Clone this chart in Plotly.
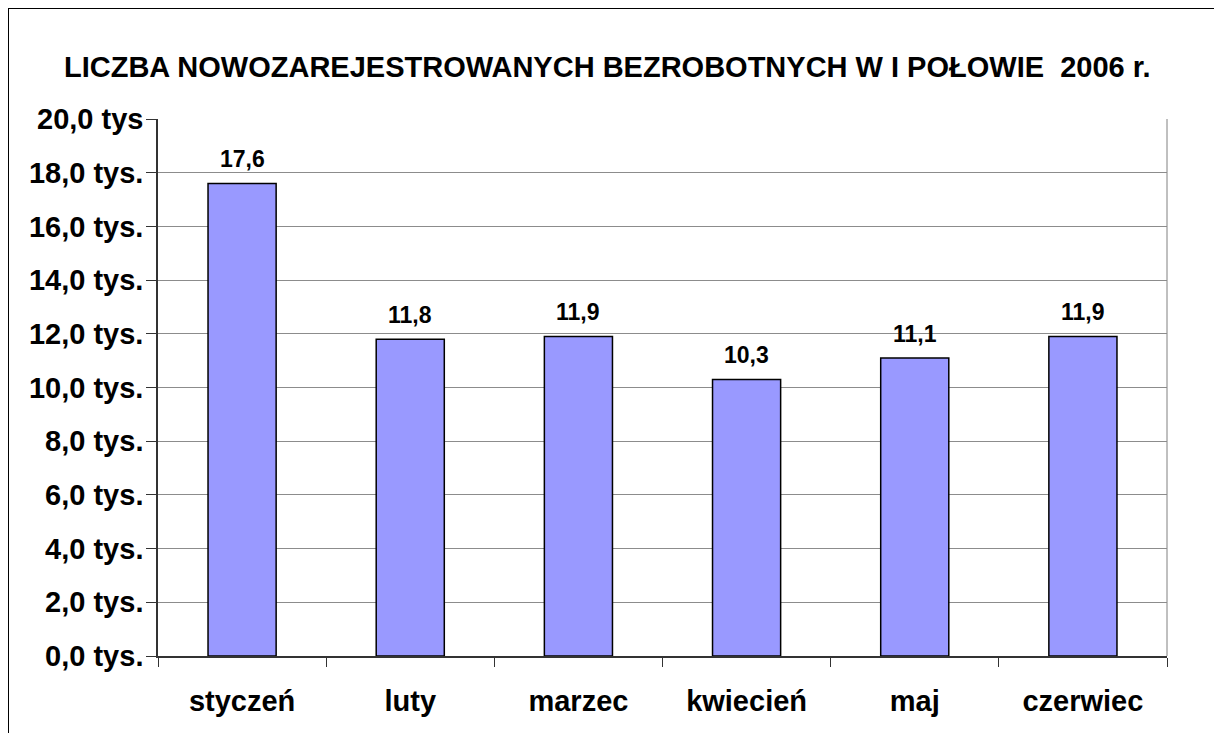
import plotly.graph_objects as go

months = ["styczeń", "luty", "marzec", "kwiecień", "maj", "czerwiec"]
values = [17.6, 11.8, 11.9, 10.3, 11.1, 11.9]
value_labels = ["17,6", "11,8", "11,9", "10,3", "11,1", "11,9"]
ytick_vals = [0, 2, 4, 6, 8, 10, 12, 14, 16, 18, 20]
ytick_text = ["0,0 tys.", "2,0 tys.", "4,0 tys.", "6,0 tys.", "8,0 tys.", "10,0 tys.",
              "12,0 tys.", "14,0 tys.", "16,0 tys.", "18,0 tys.", "20,0 tys"]
title = "LICZBA NOWOZAREJESTROWANYCH BEZROBOTNYCH W I POŁOWIE  2006 r."

W, H = 1222, 733
ML, MR, MT, MB = 150, 63, 111, 85
PW, PH = W - ML - MR, H - MT - MB

def px_x(p):
    return (p - ML) / PW

def px_y(p):
    return (H - MB - p) / PH

FONT = "Liberation Sans, Arial, sans-serif"

fig = go.Figure()
fig.add_trace(go.Bar(
    x=months, y=values,
    marker=dict(color="#9999FF", line=dict(color="#000000", width=1.5)),
    width=0.405,
    hoverinfo="skip",
))

for m, v, t in zip(months, values, value_labels):
    fig.add_annotation(x=m, y=v, text=t, showarrow=False, yanchor="bottom",
                       yshift=9, font=dict(family=FONT, size=23, color="black", weight="bold"))

fig.add_annotation(xref="paper", yref="paper", x=px_x(599), y=px_y(59),
                   xanchor="center", yanchor="middle", text=title, showarrow=False,
                   font=dict(family=FONT, size=29, color="black", weight="bold"))

# outer frame (top and left edges visible)
fig.add_shape(type="line", xref="paper", yref="paper", x0=px_x(0), x1=px_x(1240),
              y0=px_y(0.5), y1=px_y(0.5), line=dict(color="#000000", width=1))
fig.add_shape(type="line", xref="paper", yref="paper", x0=px_x(0.5), x1=px_x(0.5),
              y0=px_y(0), y1=px_y(760), line=dict(color="#000000", width=1))
# right edge of plot area
fig.add_shape(type="line", xref="paper", yref="paper", x0=1, x1=1, y0=0, y1=1,
              line=dict(color="#808080", width=1), layer="below")

fig.update_layout(
    width=W, height=H,
    margin=dict(l=ML, r=MR, t=MT, b=MB),
    paper_bgcolor="white", plot_bgcolor="white",
    showlegend=False,
    font=dict(family=FONT, size=29, color="black", weight="bold"),
    xaxis=dict(
        type="category", tickson="boundaries", ticks="outside", ticklen=9,
        tickcolor="#333333", showline=True, linecolor="#333333", linewidth=1.5,
        showgrid=False, tickfont=dict(family=FONT, size=29, color="black", weight="bold"),
        ticklabelstandoff=18,
    ),
    yaxis=dict(
        range=[0, 20], tickvals=ytick_vals, ticktext=ytick_text,
        ticks="outside", ticklen=10, tickcolor="#333333",
        showline=True, linecolor="#333333", linewidth=1.5,
        showgrid=True, gridcolor="#8c8c8c", gridwidth=1, zeroline=False,
        tickfont=dict(family=FONT, size=29, color="black", weight="bold"),
        ticklabelstandoff=-3,
    ),
)

fig.write_html("out.html")
